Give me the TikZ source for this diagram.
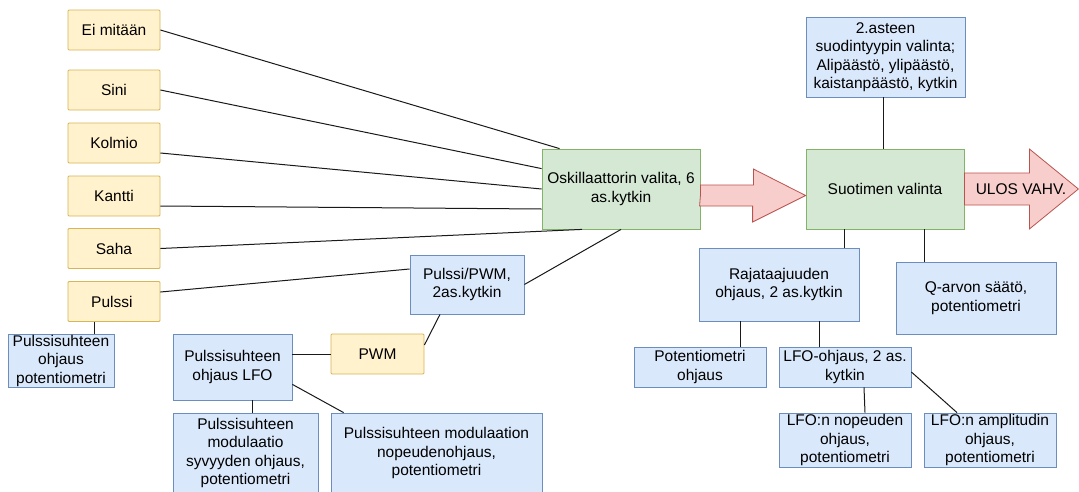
\documentclass[tikz,border=0pt]{standalone}
\usepackage{fontspec}
\setmainfont{Liberation Sans}

\definecolor{yellowfill}{HTML}{FFF2CC}
\definecolor{yellowline}{HTML}{D6B656}
\definecolor{bluefill}{HTML}{DAE8FC}
\definecolor{blueline}{HTML}{6C8EBF}
\definecolor{greenfill}{HTML}{D5E8D4}
\definecolor{greenline}{HTML}{82B366}
\definecolor{redfill}{HTML}{F8CECC}
\definecolor{redline}{HTML}{B85450}

\begin{document}
\begin{tikzpicture}[x=1pt, y=-1pt,
        box/.style={rectangle, draw, line width=0.8pt, inner sep=0pt, align=center,
            font=\fontsize{15.5}{18.5}\selectfont},
        waveform/.style={box, draw=yellowline, fill=yellowfill, rounded corners=1pt,
            minimum width=92pt, minimum height=40pt},
        control/.style={box, draw=blueline, fill=bluefill},
        selector/.style={box, draw=greenline, fill=greenfill,
            minimum width=158pt, minimum height=80pt},
        wire/.style={line width=1pt, black!90},
        bigarrow/.style={draw=redline, fill=redfill, line width=0.8pt}]
        \path[use as bounding box, fill=white] (0,0) rectangle (1079,491);
        
        % aaltomuodot
        \foreach \n/\y/\t in 
        {ei/30/Ei mitään,
            sini/90/Sini,
            kolmio/143/Kolmio,
            kantti/196/Kantti,
            saha/248.5/Saha,
            pulssi/301.5/Pulssi
        }
        {
            \node[waveform] (\n) at (114,\y) {\t};
        };
        
        \node[selector] (osk) at (621,189) {Oskillaattorin valita, 6\\as.kytkin};
        \node[selector] (suot) at (885,189) {Suotimen valinta};
        
        \node[control, minimum width=159pt, minimum height=80pt] (aste) at (885.5,57)
            {2.asteen\\suodintyypin valinta;\\Alipäästö, ylipäästö,\\kaistanpäästö, kytkin};
        \node[control, minimum width=160pt, minimum height=73pt] (raja) at (779,284.5)
            {Rajataajuuden\\ohjaus, 2 as.kytkin};
        \node[control, minimum width=160pt, minimum height=72pt] (qarvo) at (976,298)
            {Q-arvon säätö,\\potentiometri};
        \node[control, minimum width=132pt, minimum height=40pt] (pot) at (700,367)
            {Potentiometri\\ohjaus};
        \node[control, minimum width=132pt, minimum height=40pt] (lfoo) at (845,367)
            {LFO-ohjaus, 2 as.\\kytkin};
        \node[control, minimum width=132pt, minimum height=54pt] (lfonop) at (845,440)
            {LFO:n nopeuden\\ohjaus,\\potentiometri};
        \node[control, minimum width=132pt, minimum height=54pt] (lfoamp) at (990,440)
            {LFO:n amplitudin\\ohjaus,\\potentiometri};
        
        \node[control, minimum width=106pt, minimum height=53pt] (pulpot) at (61,360.5)
            {Pulssisuhteen\\ohjaus\\potentiometri};
        \node[control, minimum width=114pt, minimum height=59pt] (pwmsw) at (467,284.5)
            {Pulssi/PWM,\\2as.kytkin};
        \node[waveform, minimum width=93pt] (pwm) at (377.5,354) {PWM};
        \node[control, minimum width=119pt, minimum height=66pt] (pullfo) at (232.5,367)
            {Pulssisuhteen\\ohjaus LFO};
        \node[control, minimum width=145pt, minimum height=80pt] (syv) at (245.5,453)
            {Pulssisuhteen\\modulaatio\\syvyyden ohjaus,\\potentiometri};
        \node[control, minimum width=211pt, minimum height=80pt] (nopmod) at (436.5,453)
            {Pulssisuhteen modulaation\\nopeudenohjaus,\\potentiometri};
        
        % johdot oskillaattorin valintaan
        \draw[wire] (ei.east) -- ([xshift=18pt]osk.north west);
        \draw[wire] (sini.east) -- ([yshift=-20pt]osk.north west);
        \draw[wire] ([yshift=-10pt]kolmio.east) -- (osk.west);
        \draw[wire] ([yshift=-10pt]kantti.east) -- ([yshift=-20pt]osk.west);
        \draw[wire] (saha.east) -- ([xshift=-39pt]osk.south);
        \draw[wire] ([yshift=9.5pt]pulssi.east) -- ([yshift=15.5pt]pwmsw.west);
        \draw[wire] (pwmsw.east) -- (osk.south);
        \draw[wire] ([xshift=-20pt]pulssi.south) -- ([xshift=33pt]pulpot.north);
        \draw[wire] (pwm.west) -- (pwm.west -| pullfo.east);
        \draw[wire] ([yshift=9pt]pwm.east) -- ([xshift=-27pt]pwmsw.south);
        \draw[wire] ([xshift=19.5pt]pullfo.south) -- ([xshift=6.5pt]syv.north);
        \draw[wire] ([yshift=16pt]pullfo.south east) -- ([xshift=13pt]nopmod.north west);
        
        % suotimen puoli
        \draw[wire] ([xshift=-2.5pt]aste.south) -- ([xshift=-2pt]suot.north);
        \draw[wire] ([xshift=-41pt]suot.south) -- ([xshift=65pt]raja.north);
        \draw[wire] ([xshift=39pt]suot.south) -- ([xshift=-52pt]qarvo.north);
        \draw[wire] ([xshift=-39pt]raja.south) -- ([xshift=40pt]pot.north);
        \draw[wire] ([xshift=40pt]raja.south) -- ([xshift=-26pt]lfoo.north);
        \draw[wire] ([xshift=19pt]lfoo.south) -- ([xshift=20pt]lfonop.north);
        \draw[wire] ([yshift=-5pt]lfoo.east) -- ([xshift=-33pt]lfoamp.north);
        
        % isot nuolet
        \draw[bigarrow] ([yshift=-6.5pt]osk.east) -- ++(0,-10.5) -- ++(53,0) -- ++(0,-16)
            -- ([yshift=-6.5pt]suot.west) -- ++(-53,26.5) -- ++(0,-16) -- ++(-53,0) -- cycle;
        \draw[bigarrow] (suot.east) -- ++(0,-16) -- ++(65,0) -- ++(0,-24) -- ++(49,40)
            -- ++(-49,40) -- ++(0,-24) -- ++(-65,0) -- cycle;
        \node[font=\fontsize{15.5}{18.5}\selectfont] (ulos) at (1021,189) {ULOS VAHV.};
        
\end{tikzpicture}
\end{document}
